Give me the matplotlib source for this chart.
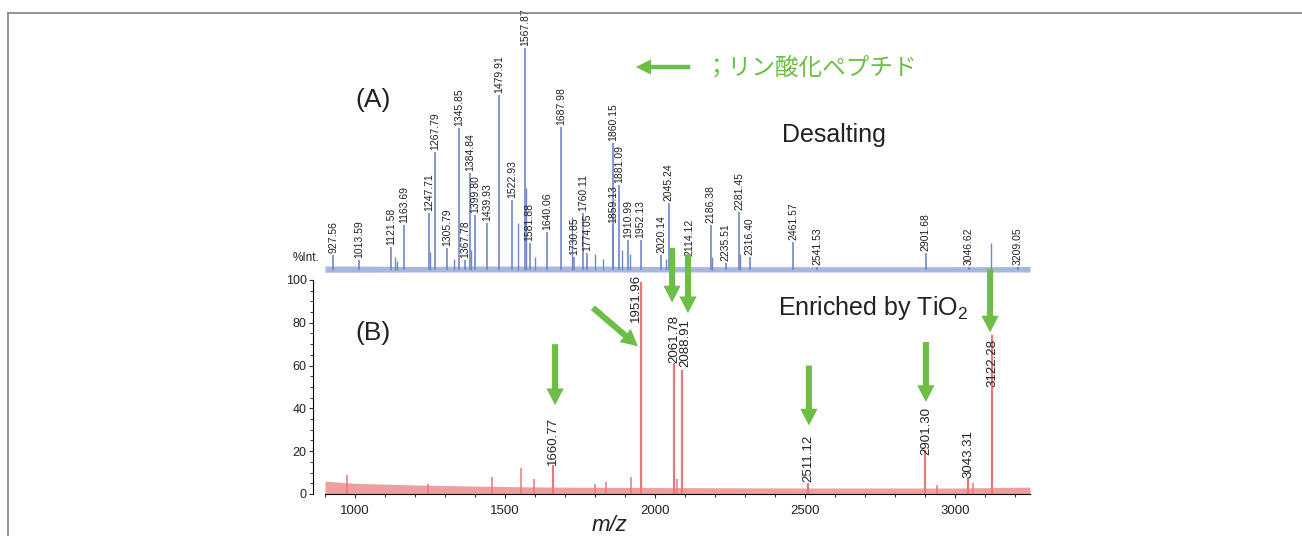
import matplotlib
matplotlib.use("Agg")
import matplotlib.pyplot as plt
from matplotlib.lines import Line2D
from matplotlib.ticker import MultipleLocator

plt.rcParams['font.family'] = ['Liberation Sans', 'DejaVu Sans']
plt.rcParams['mathtext.fontset'] = 'custom'
plt.rcParams['mathtext.rm'] = 'Liberation Sans'

# ---- (A) Desalting : labelled peaks, m/z and relative intensity (%)
a_mz = [927.56, 1013.59, 1121.58, 1163.69, 1247.71, 1267.79, 1305.79, 1345.85,
        1367.78, 1384.84, 1399.80, 1439.93, 1479.91, 1522.93, 1567.87, 1581.88,
        1640.06, 1687.98, 1730.85, 1760.11, 1774.05, 1859.13, 1860.15, 1881.09,
        1910.99, 1952.13, 2020.14, 2045.24, 2114.12, 2186.38, 2235.51, 2281.45,
        2316.40, 2461.57, 2541.53, 2901.68, 3046.62, 3209.05]
a_int = [6.8, 4.5, 10.4, 20.3, 25.7, 53.2, 9.9, 64.0,
         4.5, 43.7, 24.8, 21.2, 78.8, 31.5, 100.0, 12.2,
         17.1, 64.4, 5.9, 25.7, 7.7, 20.3, 57.2, 38.3,
         13.5, 13.5, 6.8, 30.2, 5.4, 20.3, 3.2, 26.1,
         5.9, 12.6, 1.4, 7.7, 1.4, 1.4]
# unlabelled peaks in (A)
a_small_mz = [1132, 1140, 1250, 1331, 1388, 1545, 1570, 1600, 1722, 1800,
              1827, 1890, 1916, 2037, 2190, 2285, 3120]
a_small_int = [6, 4, 8, 5, 9, 21, 37, 6, 24, 7, 5, 9, 7, 5, 6, 7, 12.2]
# baseline noise envelope (A)
a_base_mz = [900, 1000, 1200, 1400, 1600, 1800, 2000, 2200, 2400, 2600, 2800, 3000, 3250]
a_base_lo = [-1.0, -1.0, -0.9, -0.9, -0.9, -0.9, -0.9, -0.9, -0.9, -0.9, -0.9, -0.9, -0.9]
a_base_hi = [1.8, 1.8, 1.6, 1.8, 1.8, 1.8, 1.6, 1.5, 1.5, 1.5, 1.5, 1.5, 1.6]

# ---- (B) Enriched by TiO2 : labelled peaks
b_mz = [1660.77, 1951.96, 2061.78, 2088.91, 2511.12, 2901.30, 3043.31, 3122.28]
b_int = [13.6, 99.2, 61.2, 58.0, 5.1, 20.6, 8.0, 74.3]
b_label_y = [13.5, 80.5, 61.2, 59.5, 5.6, 18.2, 7.6, 50.0]
b_label_dx = [0, -16, 3, 13, 0, 2, 0, 4]
# unlabelled peaks in (B)
b_small_mz = [972, 1243, 1458, 1553, 1597, 1800, 1838, 1920, 2072, 2940, 3060]
b_small_int = [9.0, 4.5, 8.0, 12.0, 7.0, 4.5, 5.5, 8.0, 7.0, 4.0, 5.0]
# baseline noise envelope (B)
b_base_mz = [900, 1000, 1200, 1400, 1600, 1800, 2000, 2500, 3000, 3250]
b_base_hi = [6.0, 5.0, 4.2, 3.7, 3.3, 3.1, 3.0, 2.8, 2.8, 3.2]

# green arrows pointing at the phosphopeptides (tail m/z, tail y, tip m/z, tip y)
arrows = [(1667, 70, 1667, 41.5),
          (1793, 87, 1943, 69),
          (2057, 115, 2057, 89.5),
          (2110, 112, 2110, 84.5),
          (2513, 60, 2513, 32),
          (2903, 71, 2903, 43),
          (3117, 105, 3117, 75.5)]

blue = '#6F88C9'
red = '#E8787A'
green = '#6DBE45'

fig = plt.figure(figsize=(13.02, 5.36), dpi=100)

axA = fig.add_axes([0.2496, 0.4838, 0.5415, 0.4474])
axA.set_xlim(900, 3250)
axA.set_ylim(-3, 105)
axA.axis('off')
axA.fill_between(a_base_mz, a_base_lo, a_base_hi, color=blue, alpha=0.6, lw=0)
axA.vlines(a_small_mz, 0, a_small_int, color=blue, lw=1.0)
axA.vlines(a_mz, 0, a_int, color=blue, lw=1.2)
for mz, h in zip(a_mz, a_int):
    axA.text(mz, h + 0.8, f'{mz:.2f}', rotation=90, ha='center', va='bottom',
             fontsize=7.5, color='#222222')

axB = fig.add_axes([0.2496, 0.0784, 0.5415, 0.3993])
axB.set_xlim(900, 3250)
axB.set_ylim(0, 100)
axB.fill_between(b_base_mz, 0, b_base_hi, color=red, alpha=0.7, lw=0)
axB.vlines(b_small_mz, 0, b_small_int, color=red, lw=1.1)
axB.vlines(b_mz, 0, b_int, color=red, lw=1.6)
for mz, h, dx in zip(b_mz, b_label_y, b_label_dx):
    axB.text(mz + dx, h, f'{mz:.2f}', rotation=90, ha='center', va='bottom',
             fontsize=9.5, color='#222222')

for sp in ['top', 'right']:
    axB.spines[sp].set_visible(False)
axB.spines['left'].set_position(('outward', 8.6))
axB.spines['left'].set_linewidth(0.8)
axB.spines['bottom'].set_linewidth(0.8)
axB.xaxis.set_major_locator(MultipleLocator(500))
axB.xaxis.set_minor_locator(MultipleLocator(100))
axB.yaxis.set_major_locator(MultipleLocator(20))
axB.yaxis.set_minor_locator(MultipleLocator(5))
axB.tick_params(axis='both', which='major', length=3, width=0.8, color='#333333')
axB.tick_params(axis='both', which='minor', length=2, width=0.7, color='#333333')
axB.tick_params(axis='x', which='major', pad=5, labelsize=9.5)
axB.tick_params(axis='y', which='major', pad=1.5, labelsize=9)
for lab in axB.get_xticklabels() + axB.get_yticklabels():
    lab.set_color('#222222')

for x0, y0, x1, y1 in arrows:
    axB.annotate('', xy=(x1, y1), xytext=(x0, y0), xycoords='data',
                 annotation_clip=False,
                 arrowprops=dict(arrowstyle='simple,head_length=0.6,head_width=0.62,tail_width=0.22',
                                 mutation_scale=20, color=green, lw=0,
                                 shrinkA=0, shrinkB=0))

# legend arrow + text
fig.patches.append(plt.matplotlib.patches.FancyArrowPatch(
    (0.5323, 0.875), (0.4862, 0.875), transform=fig.transFigure,
    arrowstyle='simple,head_length=0.55,head_width=0.55,tail_width=0.16',
    mutation_scale=20, color=green, lw=0))
fig.text(0.5415, 0.873, '；リン酸化ペプチド', color=green, fontsize=17,
         family=['Noto Sans CJK JP', 'DejaVu Sans'], ha='left', va='center')

fig.text(0.2865, 0.8134, '(A)', fontsize=19, ha='center', va='center', color='#222222')
fig.text(0.2865, 0.3787, '(B)', fontsize=19, ha='center', va='center', color='#222222')
fig.text(0.6402, 0.735, 'Desalting', fontsize=18, ha='center', va='baseline', color='#222222')
fig.text(0.5975, 0.4123, r'Enriched by TiO$_\mathrm{2}$', fontsize=18, ha='left',
         va='baseline', color='#222222')
fig.text(0.235, 0.5195, '%Int.', fontsize=8.5, ha='center', va='center', color='#222222')
fig.text(0.4685, 0.0187, 'm/z', fontsize=16, style='italic', ha='center', va='center',
         color='#222222')

# frame lines of the original figure box
fig.add_artist(Line2D([0.00614, 1.0], [0.9757, 0.9757], transform=fig.transFigure,
                      color='#808080', lw=1.2))
fig.add_artist(Line2D([0.00614, 0.00614], [0.0, 0.9757], transform=fig.transFigure,
                      color='#808080', lw=1.2))

fig.savefig('out.png', dpi=100)
